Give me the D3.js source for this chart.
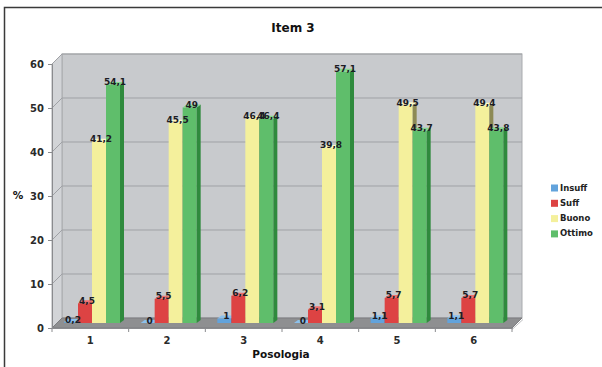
<!DOCTYPE html>
<html>
<head>
<meta charset="utf-8">
<script src="https://cdnjs.cloudflare.com/ajax/libs/d3/7.8.5/d3.min.js"></script>
<style>
  html, body { margin: 0; padding: 0; background: #fff; }
  svg { display: block; font-family: "DejaVu Sans", Verdana, sans-serif; }
</style>
</head>
<body>
<svg id="chart" width="602" height="367"></svg>
<script>
// ---- data ----
const categories = ["1", "2", "3", "4", "5", "6"];
const seriesNames = ["Insuff", "Suff", "Buono", "Ottimo"];
const insuff = [0.2, 0, 1, 0, 1.1, 1.1];
const suff   = [4.5, 5.5, 6.2, 3.1, 5.7, 5.7];
const buono  = [41.2, 45.5, 46.4, 39.8, 49.5, 49.4];
const ottimo = [54.1, 49, 46.4, 57.1, 43.7, 43.8];
const yTicks = [0, 10, 20, 30, 40, 50, 60];

const seriesValues = [insuff, suff, buono, ottimo];
const colors = {
  Insuff: { front: "#62a3dc", side: "#3b76ad", top: "#8cc0ec" },
  Suff:   { front: "#dd4343", side: "#a32828", top: "#ec7070" },
  Buono:  { front: "#f4f09c", side: "#8d8a55", top: "#fbf8c6" },
  Ottimo: { front: "#5fbe6b", side: "#2f8a3d", top: "#86d690" }
};

const svg = d3.select("#chart");
const fmt = d3.formatLocale({ decimal: ",", thousands: ".", grouping: [3], currency: ["", ""] }).format("~g");

// ---- scales (front plane) ----
const left = 52, right = 512;
const y = d3.scaleLinear().domain([0, 60]).range([328, 64]);
const x0 = d3.scaleBand().domain(categories).range([left, right]).padding(0);
const x1 = d3.scaleBand().domain(seriesNames).range([0, 56]);
const D = 10;          // wall depth offset
const bd = 5;          // bars stand half-way into the depth
const sd = 4;          // depth of each bar box

// outer frame
svg.append("path").attr("d", "M4.5,367 L4.5,7.5 L602,7.5")
  .attr("fill", "none").attr("stroke", "#3a3a3a").attr("stroke-width", 1.5);

// title
svg.append("text").attr("x", 293).attr("y", 28).attr("text-anchor", "middle")
  .attr("dominant-baseline", "middle").attr("font-size", 12).attr("font-weight", "bold")
  .attr("fill", "#111").text("Item 3");

// ---- walls ----
const wallFill = "#c8cacd", gridCol = "#9fa1a5";
// back wall
svg.append("rect").attr("x", left + D).attr("y", y(60) - D)
  .attr("width", right - left).attr("height", y(0) - y(60))
  .attr("fill", wallFill).attr("stroke", "#a9abae");
// left side wall
svg.append("path")
  .attr("d", `M${left},${y(60)} L${left + D},${y(60) - D} L${left + D},${y(0) - D} L${left},${y(0)} Z`)
  .attr("fill", "#d2d4d7").attr("stroke", "#a9abae");

// gridlines on back wall and side wall
const grid = svg.append("g");
yTicks.filter(v => v > 0).forEach(v => {
  grid.append("line").attr("x1", left + D).attr("x2", right + D)
    .attr("y1", y(v) - D).attr("y2", y(v) - D)
    .attr("stroke", gridCol).attr("stroke-width", 1);
  grid.append("line").attr("x1", left).attr("x2", left + D)
    .attr("y1", y(v)).attr("y2", y(v) - D)
    .attr("stroke", gridCol).attr("stroke-width", 1);
});

// floor
svg.append("path")
  .attr("d", `M${left},${y(0)} L${right},${y(0)} L${right + D},${y(0) - D} L${left + D},${y(0) - D} Z`)
  .attr("fill", "#8e8f91").attr("stroke", "#7c7d80");
svg.append("line").attr("x1", right).attr("x2", right + D + 1)
  .attr("y1", y(0) + 1.5).attr("y2", y(0) - D + 1.5)
  .attr("stroke", "#bdbec0").attr("stroke-width", 1);

// ---- bars ----
const bars = svg.append("g");
const labels = [];
categories.forEach((c, ci) => {
  seriesNames.forEach((s, si) => {
    const v = seriesValues[si][ci];
    const bx = x0(c) + 7 + bd + x1(s);
    const bw = x1.bandwidth();
    const base = y(0) - bd;
    const top = y(v) - bd;
    const col = colors[s];
    // front face
    bars.append("rect").attr("x", bx).attr("y", top).attr("width", bw)
      .attr("height", Math.max(0, base - top)).attr("fill", col.front);
    // right side face
    bars.append("path")
      .attr("d", `M${bx + bw},${top} L${bx + bw + sd},${top - 3} L${bx + bw + sd},${base - 3} L${bx + bw},${base} Z`)
      .attr("fill", col.side);
    // top face
    bars.append("path")
      .attr("d", `M${bx},${top} L${bx + bw},${top} L${bx + bw + sd},${top - 3} L${bx + sd},${top - 3} Z`)
      .attr("fill", col.top);
    labels.push({ x: bx + bw / 2 + 2, y: top - 2, text: fmt(v) });
  });
});

// value labels
svg.append("g").selectAll("text").data(labels).join("text")
  .attr("x", d => d.x).attr("y", d => d.y)
  .attr("text-anchor", "middle").attr("dominant-baseline", "middle")
  .attr("font-size", 9).attr("font-weight", "bold").attr("fill", "#1c1c24")
  .text(d => d.text);

// ---- axes ----
const yAxis = svg.append("g").attr("transform", `translate(${left},0)`)
  .call(d3.axisLeft(y).tickValues(yTicks).tickSize(4).tickPadding(4));
yAxis.select(".domain").attr("stroke", "#8a8b8e");
yAxis.selectAll(".tick line").attr("stroke", "#8a8b8e");
yAxis.selectAll("text").attr("font-size", 10).attr("font-weight", "bold")
  .attr("fill", "#2a2a2a").attr("font-family", "DejaVu Sans, sans-serif");

const xAxis = svg.append("g").attr("transform", `translate(0,${y(0)})`)
  .call(d3.axisBottom(x0).tickSize(0).tickPadding(9));
xAxis.select(".domain").attr("stroke", "#8a8b8e");
xAxis.selectAll("text").attr("font-size", 10).attr("font-weight", "bold")
  .attr("fill", "#2a2a2a").attr("font-family", "DejaVu Sans, sans-serif");
// tick marks between categories
const bounds = categories.map(c => x0(c)).concat([right]);
svg.append("g").selectAll("line").data(bounds).join("line")
  .attr("x1", d => d).attr("x2", d => d).attr("y1", y(0)).attr("y2", y(0) + 4)
  .attr("stroke", "#8a8b8e");

// axis titles
svg.append("text").attr("x", 18).attr("y", 196).attr("text-anchor", "middle")
  .attr("dominant-baseline", "middle").attr("font-size", 10.5).attr("font-weight", "bold")
  .attr("fill", "#111").text("%");
svg.append("text").attr("x", 281).attr("y", 355).attr("text-anchor", "middle")
  .attr("dominant-baseline", "middle").attr("font-size", 10.5).attr("font-weight", "bold")
  .attr("fill", "#111").text("Posologia");

// ---- legend ----
const legend = svg.append("g");
seriesNames.forEach((s, i) => {
  const ly = 188 + i * 15.3;
  legend.append("rect").attr("x", 551).attr("y", ly - 3.5).attr("width", 7).attr("height", 7)
    .attr("fill", colors[s].front);
  legend.append("text").attr("x", 560).attr("y", ly).attr("dominant-baseline", "middle")
    .attr("font-size", 8.5).attr("font-weight", "bold").attr("fill", "#222").text(s);
});
</script>
</body>
</html>
